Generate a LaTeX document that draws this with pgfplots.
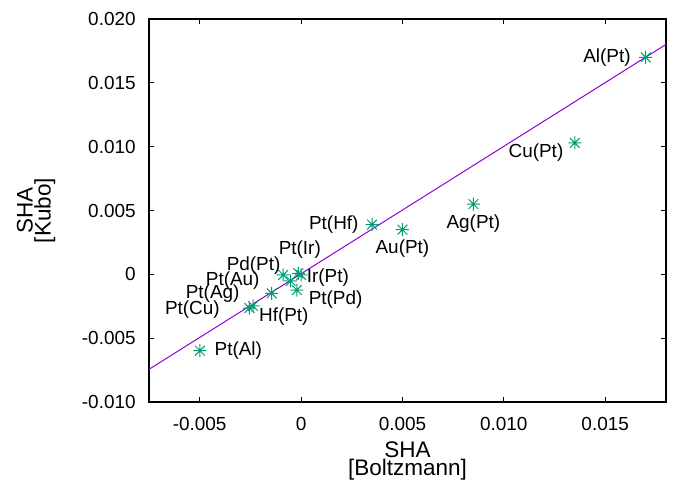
\documentclass[border=0pt]{standalone}
\usepackage{fontspec}
\setmainfont{Liberation Sans}
\usepackage{pgfplots}
\usepackage{pgfplotstable}
\pgfplotsset{compat=1.18}
\definecolor{gpgreen}{HTML}{009E73}
\definecolor{gpviolet}{HTML}{9400D3}

% gnuplot point type 3: a + and an x on top of each other
\pgfdeclareplotmark{gpstar}{%
  \pgfpathmoveto{\pgfqpoint{-\pgfplotmarksize}{0pt}}%
  \pgfpathlineto{\pgfqpoint{\pgfplotmarksize}{0pt}}%
  \pgfpathmoveto{\pgfqpoint{0pt}{-\pgfplotmarksize}}%
  \pgfpathlineto{\pgfqpoint{0pt}{\pgfplotmarksize}}%
  \pgfpathmoveto{\pgfqpoint{-0.75\pgfplotmarksize}{-0.75\pgfplotmarksize}}%
  \pgfpathlineto{\pgfqpoint{0.75\pgfplotmarksize}{0.75\pgfplotmarksize}}%
  \pgfpathmoveto{\pgfqpoint{-0.75\pgfplotmarksize}{0.75\pgfplotmarksize}}%
  \pgfpathlineto{\pgfqpoint{0.75\pgfplotmarksize}{-0.75\pgfplotmarksize}}%
  \pgfusepathqstroke}

% x = Boltzmann, y = Kubo, dx/dy = label offset in bp
\pgfplotstableread{
x        y        dx     dy     label
0.0170   0.0170   -19.4  0      Al(Pt)
0.0135   0.0103   -19.4  -5.0   Cu(Pt)
0.0085   0.0055   0      -9.7   Ag(Pt)
0.0050   0.0035   0      -9.7   Au(Pt)
0.0035   0.0039   -19.1  0      Pt(Hf)
-0.00013 0.00008  0.7    11.7   Pt(Ir)
0.0000   -0.00005 13.4   -1.2   Ir(Pt)
-0.00088 -0.00005 -14.8  4.5    Pd(Pt)
-0.00051 -0.00052 -29.0  0      Pt(Au)
-0.00145 -0.00149 -29.5  0      Pt(Ag)
-0.00255 -0.00264 -28.5  -0.6   Pt(Cu)
-0.00237 -0.00248 15.4   -5.3   Hf(Pt)
-0.00021 -0.00123 19.4   -4.7   Pt(Pd)
-0.00499 -0.00598 19.2   0      Pt(Al)
}\shatable

\begin{document}
\begin{tikzpicture}
\path[use as bounding box] (-74.5bp,-39.5bp) rectangle (265.5bp,201bp);
\begin{axis}[
    scale only axis,
    width=258.5bp, height=191.5bp,
    xmin=-0.0075, xmax=0.018,
    ymin=-0.010, ymax=0.020,
    scaled ticks=false,
    xtick={-0.005,0,0.005,0.010,0.015},
    xticklabels={-0.005,0,0.005,0.010,0.015},
    ytick={-0.010,-0.005,0,0.005,0.010,0.015,0.020},
    yticklabels={-0.010,-0.005,0,0.005,0.010,0.015,0.020},
    tick align=inside,
    major tick length=2.5bp,
    axis line style={line width=1bp},
    tick style={black, line width=0.5bp},
    tick label style={font=\fontsize{9.5}{11}\selectfont},
    yticklabel style={inner sep=0pt, xshift=-6.5bp},
    xticklabel style={inner sep=0pt, yshift=-7.3bp},
    xlabel={SHA\\{}[Boltzmann]},
    ylabel={SHA\\{}[Kubo]},
    xlabel style={font=\fontsize{11.3}{9}\selectfont, align=center, inner sep=0pt,
        at={(axis description cs:0.5,-0.1039)}, anchor=north},
    ylabel style={font=\fontsize{11.3}{9}\selectfont, align=center, inner sep=0pt,
        at={(axis description cs:-0.2561,0.5)}, anchor=north},
]
\addplot[only marks, mark=gpstar, mark size=3.25bp, color=gpgreen,
    mark options={line width=0.5bp},
    point meta=explicit symbolic,
    visualization depends on={\thisrow{dx} \as \mydx},
    visualization depends on={\thisrow{dy} \as \mydy},
    nodes near coords,
    every node near coord/.append style={black, anchor=center, inner sep=0pt,
        font=\fontsize{9.5}{11}\selectfont, xshift=\mydx bp, yshift=\mydy bp},
] table[x=x, y=y, meta=label] {\shatable};
\addplot[gpviolet, line width=0.5bp] coordinates {(-0.0075,-0.00744) (0.018,0.01801)};
\end{axis}
\end{tikzpicture}
\end{document}
